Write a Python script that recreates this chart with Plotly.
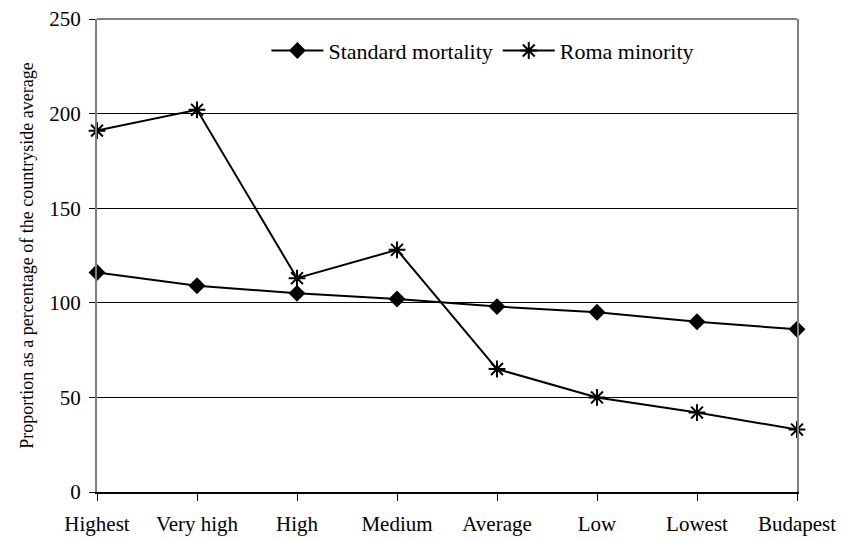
import plotly.graph_objects as go

categories = ["Highest", "Very high", "High", "Medium", "Average", "Low", "Lowest", "Budapest"]
standard_mortality = [116, 109, 105, 102, 98, 95, 90, 86]
roma_minority = [191, 202, 113, 128, 65, 50, 42, 33]
y_ticks = [0, 50, 100, 150, 200, 250]

serif = "'Times New Roman', 'Liberation Serif', Tinos, serif"
x_idx = list(range(len(categories)))

fig = go.Figure()
fig.add_trace(go.Scatter(
    x=x_idx, y=standard_mortality, name="Standard mortality",
    mode="lines+markers",
    line=dict(color="black", width=2),
    marker=dict(symbol="diamond", size=13, color="black"),
    cliponaxis=False,
))
fig.add_trace(go.Scatter(
    x=x_idx, y=roma_minority, name="Roma minority",
    mode="lines+markers",
    line=dict(color="black", width=2),
    marker=dict(symbol="asterisk-open", size=14, color="black",
                line=dict(color="black", width=2)),
    cliponaxis=False,
))

# grey frame on top/right, like the left axis
fig.add_shape(type="line", xref="paper", yref="paper", x0=0, x1=1, y0=1, y1=1,
              line=dict(color="#808080", width=2), layer="above")

fig.update_layout(
    width=843, height=540,
    margin=dict(l=97, r=46, t=19, b=48),
    paper_bgcolor="white", plot_bgcolor="white",
    font=dict(family=serif, size=20, color="black"),
    showlegend=True,
    legend=dict(
        orientation="h", x=0.242, y=0.933, xanchor="left", yanchor="middle",
        font=dict(family=serif, size=22, color="black"),
        bgcolor="rgba(0,0,0,0)", itemwidth=52, tracegroupgap=0,
    ),
    xaxis=dict(
        range=[0, 7], tickmode="array", tickvals=x_idx, ticktext=categories,
        showgrid=False, zeroline=False, automargin=False,
        showline=True, linecolor="black", linewidth=2, mirror=False,
        ticks="outside", ticklen=7, tickcolor="black", tickwidth=1,
        ticklabelstandoff=5,
        tickfont=dict(family=serif, size=21, color="black"),
    ),
    yaxis=dict(
        range=[0, 250], tickmode="array", tickvals=y_ticks,
        showgrid=True, gridcolor="black", gridwidth=1, zeroline=False,
        automargin=False,
        showline=True, linecolor="#808080", linewidth=2, mirror=True,
        ticks="outside", ticklen=6, tickcolor="black", tickwidth=1,
        ticklabelstandoff=4,
        tickfont=dict(family=serif, size=21, color="black"),
        title=dict(text="Proportion as a percentage of the countryside average",
                   font=dict(family=serif, size=18, color="black"),
                   standoff=11),
    ),
)

fig.write_html("out.html")
